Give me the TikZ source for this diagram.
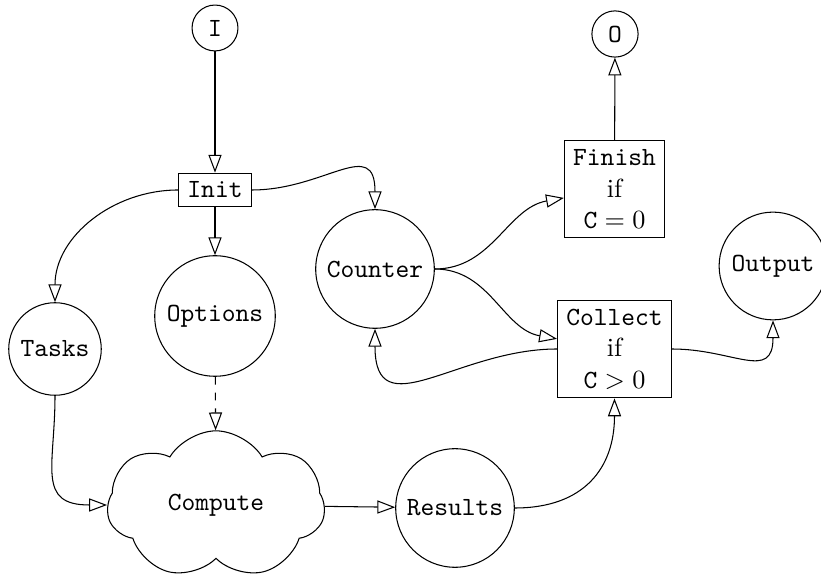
\documentclass[tikz,border=0pt]{standalone}
\usetikzlibrary{shapes.symbols, arrows.meta}
\begin{document}
\begin{tikzpicture}[x=0.381pt, y=0.381pt,
  place/.style={circle, draw, font=\ttfamily},
  trans/.style={rectangle, draw, align=center},
  flow/.style={-{Triangle[open, length=6.8pt, width=5pt]}},
]
\useasboundingbox (0,0) rectangle (821,-577);

% places and transitions
\node[place] (I) at (215,-28) {I};
\node[place] (O) at (615,-34) {O};
\node[trans, font=\ttfamily] (Init) at (215,-190) {Init};
\node[place] (Options) at (215,-316) {Options};
\node[place] (Tasks) at (55,-349) {Tasks};
\node[place] (Counter) at (375,-269) {Counter};
\node[trans] (Finish) at (614.5,-189) {\texttt{Finish}\\if\\$\mathtt{C}=0$};
\node[trans] (Collect) at (614.5,-349) {\texttt{Collect}\\if\\$\mathtt{C}>0$};
\node[place] (Output) at (773,-266) {Output};
\node[cloud, draw, cloud puffs=7, cloud puff arc=118, cloud ignores aspect,
      minimum width=83pt, minimum height=56.5pt,
      font=\ttfamily] (Compute) at (216,-505) {Compute};
\node[place] (Results) at (455,-508) {Results};

% arcs
\draw[flow] (I) -- (Init);
\draw[flow] (Init) -- (Options);
\draw[flow] (Init) to[out=180, in=90] (Tasks);
\draw[flow] (Init) to[out=0, in=90, looseness=1.5] (Counter);
\draw[flow, dashed] (Options) -- (Compute);
\draw[flow] (Tasks) to[out=-90, in=180, looseness=1.5] (Compute);
\draw[flow] (Compute) -- (Results);
\draw[flow] (Results) to[out=0, in=-90, looseness=1.2] (Collect);
\draw[flow] (Counter) to[out=0, in=190] (Finish);
\draw[flow] (Counter) to[out=0, in=170] (Collect);
\draw[flow] (Collect) to[out=180, in=-90, looseness=1.4] (Counter);
\draw[flow] (Collect) to[out=0, in=-90, looseness=1.5] (Output);
\draw[flow] (Finish) -- (O);
\end{tikzpicture}
\end{document}
